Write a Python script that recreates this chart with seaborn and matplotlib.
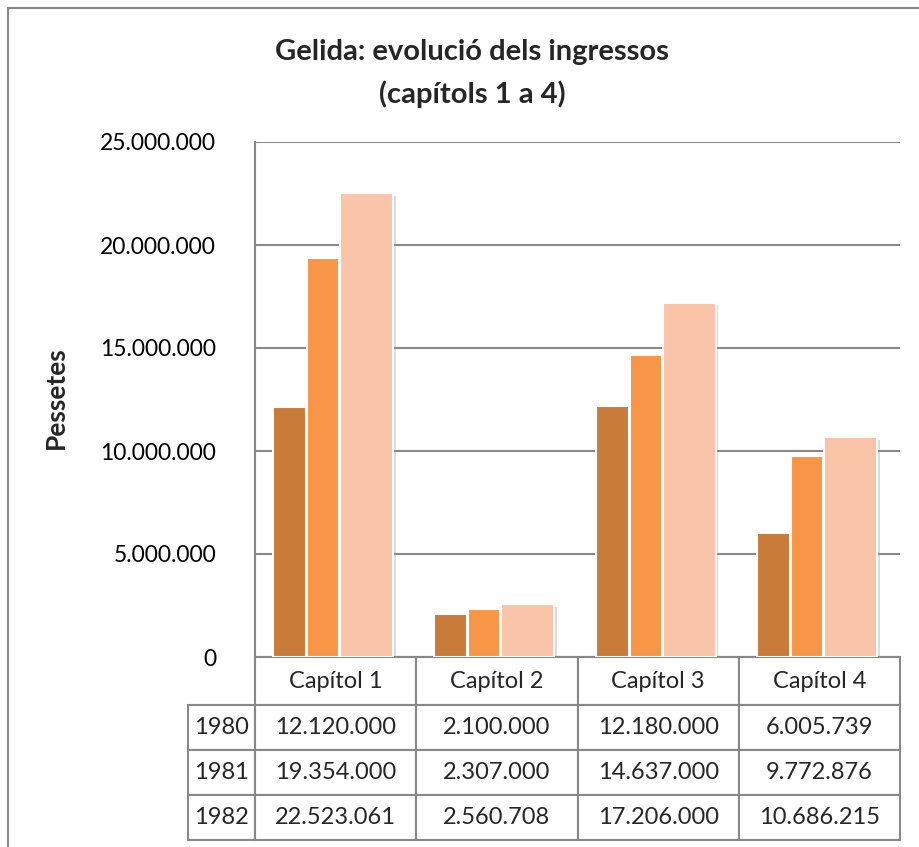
import matplotlib
matplotlib.use("Agg")
import matplotlib.pyplot as plt
import matplotlib.patheffects as pe
from matplotlib.patches import Rectangle
import seaborn as sns
import pandas as pd

# ---- data ----
categories = ["Capítol 1", "Capítol 2", "Capítol 3", "Capítol 4"]
years = ["1980", "1981", "1982"]
values_1980 = [12120000, 2100000, 12180000, 6005739]
values_1981 = [19354000, 2307000, 14637000, 9772876]
values_1982 = [22523061, 2560708, 17206000, 10686215]
yticks = [0, 5000000, 10000000, 15000000, 20000000, 25000000]

colors = ["#C97B3A", "#F79646", "#F9C4A8"]
series = [values_1980, values_1981, values_1982]

def fmt(v):
    return f"{v:,}".replace(",", ".")

rows = []
for y, vals in zip(years, series):
    for c, v in zip(categories, vals):
        rows.append({"Capítol": c, "Any": y, "Pessetes": v})
df = pd.DataFrame(rows)

sns.set_theme(style="white")
plt.rcParams["font.family"] = ["Lato", "DejaVu Sans"]

W, H = 920, 847
fig = plt.figure(figsize=(W / 100, H / 100), dpi=100)
ax_l, ax_r, ax_t, ax_b = 255, 900, 142, 657
ax = fig.add_axes([ax_l / W, 1 - ax_b / H, (ax_r - ax_l) / W, (ax_b - ax_t) / H])

sns.barplot(data=df, x="Capítol", y="Pessetes", hue="Any", palette=colors,
            order=categories, hue_order=years, ax=ax, legend=False,
            width=0.75, saturation=1, edgecolor="white", linewidth=1.5, zorder=3)

# bar geometry relative to category center (fractions of category width)
offsets = [(-0.388, -0.183), (-0.177, 0.022), (0.028, 0.357)]
shadow = [pe.SimplePatchShadow(offset=(2, -2), shadow_rgbFace="#999999", alpha=0.35), pe.Normal()]
patches = [p for p in ax.patches if p.get_height() > 0]
for hi, y in enumerate(years):
    for ci in range(len(categories)):
        p = patches[hi * len(categories) + ci]
        x0, x1 = offsets[hi]
        p.set_x(ci + x0)
        p.set_width(x1 - x0)
        p.set_path_effects(shadow)

ax.set_xlim(-0.5, len(categories) - 0.5)
ax.set_ylim(0, 25000000)
ax.set_yticks(yticks)
ax.set_yticklabels([fmt(v) for v in yticks], fontsize=16.5, color="black")
ax.tick_params(axis="y", pad=28, length=0)
ax.set_xticks([])
ax.set_xlabel("")
ax.set_ylabel("Pessetes", fontsize=19, fontweight="bold")
axw = ax_r - ax_l
axh = ax_b - ax_t
ax.yaxis.set_label_coords((68 - ax_l) / axw, (ax_b - 398) / axh)
ax.yaxis.grid(True, color="#888888", linewidth=1.5, zorder=0)
ax.set_axisbelow(True)
for s in ["top", "right", "bottom"]:
    ax.spines[s].set_visible(False)
ax.spines["left"].set_color("#888888")
ax.spines["left"].set_linewidth(1.5)

# data table
cell_text = [[""] + categories]
for y, vals in zip(years, series):
    cell_text.append([y] + [fmt(v) for v in vals])
tbl_left = 188
tbl_bottom = 840
tbl = ax.table(cellText=cell_text, cellLoc="center",
               colWidths=[67, 161, 161, 161, 161],
               bbox=[(tbl_left - ax_l) / axw, -(tbl_bottom - ax_b) / axh,
                     (ax_r - tbl_left) / axw, (tbl_bottom - ax_b) / axh])
tbl.auto_set_font_size(False)
for (r, c), cell in tbl.get_celld().items():
    cell.set_edgecolor("#888888")
    cell.set_linewidth(1.5)
    cell.set_height(48 if r == 0 else 45)
    cell.get_text().set_fontsize(17)
    cell.get_text().set_family(["Lato", "DejaVu Sans"])
    if r == 0 and c == 0:
        cell.visible_edges = ""

# title
fig.text(472 / W, 1 - 52 / H, "Gelida: evolució dels ingressos", ha="center", va="center",
         fontsize=21, fontweight="bold")
fig.text(472 / W, 1 - 94 / H, "(capítols 1 a 4)", ha="center", va="center",
         fontsize=21, fontweight="bold")

# chart frame
fig.patches.append(Rectangle((8 / W, -0.05), 1.1, 1 - 8 / H + 0.05, transform=fig.transFigure,
                             fill=False, edgecolor="#888888", linewidth=1.5))

fig.savefig("out.png", dpi=100, facecolor="white")
